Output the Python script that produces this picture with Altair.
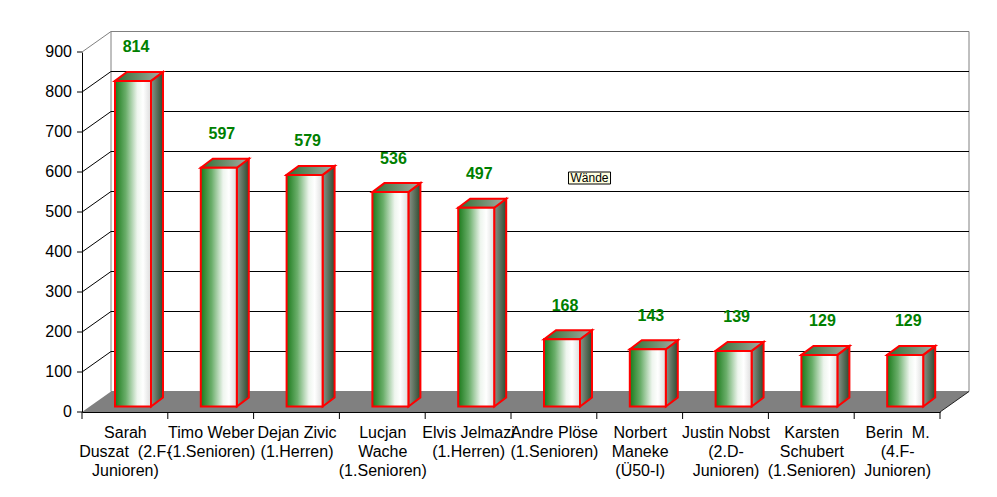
import json
import altair as alt
import pandas as pd

# ---- data ----
names = [
    "Sarah|Duszat  (2.F-|Junioren)",
    "Timo Weber|(1.Senioren)",
    "Dejan Zivic|(1.Herren)",
    "Lucjan|Wache|(1.Senioren)",
    "Elvis Jelmazi|(1.Herren)",
    "Andre Plöse|(1.Senioren)",
    "Norbert|Maneke|(Ü50-I)",
    "Justin Nobst|(2.D-|Junioren)",
    "Karsten|Schubert|(1.Senioren)",
    "Berin  M.|(4.F-|Junioren)",
]
values = [814, 597, 579, 536, 497, 168, 143, 139, 129, 129]
y_ticks = [0, 100, 200, 300, 400, 500, 600, 700, 800, 900]
note_text = "Wände"

# ---- geometry / style ----
W, H = 858, 360
N = len(values)
YMAX = 900
PX = W / N          # px per category
PY = H / YMAX       # px per value unit
DXW = 29 / PX       # 3D wall depth (x)
DYW = 20.5 / PY     # 3D wall depth (y)
FL, FR = 33 / PX, 69 / PX   # bar front face within category
SDX, SDY = 12 / PX, 9 / PY  # bar depth
BASE = 5.5 / PY
FONT = "Liberation Sans"

xs = alt.Scale(domain=[0, N], nice=False, zero=False)
ys = alt.Scale(domain=[0, YMAX], nice=False, zero=False)


def X(f):
    return alt.X(f, scale=xs, title=None)


def Y(f, **kw):
    return alt.Y(f, scale=ys, title=None, **kw)


df = pd.DataFrame({"i": list(range(N)), "v": values, "name": names})
base = alt.Chart(df)

# keep double spaces visible in SVG text
label_lines = json.dumps(
    [[s.replace("  ", " \u00a0") for s in n.split("|")] for n in names],
    ensure_ascii=False,
)

# axes carrier (invisible)
axes = alt.Chart(pd.DataFrame({"t": y_ticks})).transform_calculate(xx="0").mark_rule(opacity=0).encode(
    x=alt.X(
        "xx:Q", scale=xs, title=None,
        axis=alt.Axis(
            values=[k + 0.5 for k in range(N)], ticks=False, grid=False,
            labelExpr=f"{label_lines}[round(datum.value - 0.5)]",
            labelFont=FONT, labelFontSize=16, labelColor="black",
            labelLineHeight=19, labelPadding=12, labelAngle=0,
            labelOverlap=False, labelFlush=False,
            domainColor="black", domainWidth=1, zindex=1,
        ),
    ),
    y=alt.Y(
        "t:Q", scale=ys, title=None,
        axis=alt.Axis(
            values=y_ticks, grid=False, ticks=False, labels=False,
            domainColor="black", domainWidth=1, zindex=1,
        ),
    ),
)

tick_df = pd.DataFrame({"t": y_ticks})
# y tick marks and labels
ytick_marks = alt.Chart(tick_df).mark_rule(color="black", strokeWidth=1).encode(
    x=alt.value(-5), x2=alt.value(0), y=Y("t:Q"),
)
ytick_labels = alt.Chart(tick_df).mark_text(
    font=FONT, fontSize=16, color="black", align="right", baseline="middle",
).encode(
    x=alt.value(-10), y=Y("t:Q"), text="t:Q",
)

# back wall
wall = alt.Chart(pd.DataFrame({"a": [0]})).transform_calculate(
    x0=f"{DXW}", x1=f"{N + DXW}", y0=f"{DYW}", y1=f"{YMAX + DYW}"
).mark_rect(fill="white", stroke="#808080", strokeWidth=1).encode(
    x=X("x0:Q"), x2="x1:Q", y=Y("y0:Q"), y2="y1:Q",
)

# floor
floor = alt.Chart(pd.DataFrame({"k": [0, 1, 2, 3]})).transform_calculate(
    x=f"[0, {DXW}, {N}, {N + DXW}][datum.k]",
    yt=f"[0, {DYW}, {DYW}, {DYW}][datum.k]",
    yb=f"[0, 0, 0, {DYW}][datum.k]",
).mark_area(orient="vertical", fill="#808080").encode(
    x=X("x:Q"), y=Y("yt:Q", stack=None), y2="yb:Q",
)

inner = alt.Chart(tick_df).transform_filter("datum.t > 0 && datum.t < 900")
# back wall gridlines
grid_back = inner.transform_calculate(
    x0=f"{DXW}", x1=f"{N + DXW}", yy=f"datum.t + {DYW}"
).mark_rule(color="black", strokeWidth=1).encode(
    x=X("x0:Q"), x2="x1:Q", y=Y("yy:Q"),
)
# left wall diagonals
grid_left = inner.transform_calculate(
    x0="0", x1=f"{DXW}", y0="datum.t", y1=f"datum.t + {DYW}"
).mark_rule(color="black", strokeWidth=1).encode(
    x=X("x0:Q"), x2="x1:Q", y=Y("y0:Q"), y2="y1:Q",
)
top_diag = alt.Chart(tick_df).transform_filter("datum.t == 900").transform_calculate(
    x0="0", x1=f"{DXW}", y0="datum.t", y1=f"datum.t + {DYW}"
).mark_rule(color="#808080", strokeWidth=1).encode(
    x=X("x0:Q"), x2="x1:Q", y=Y("y0:Q"), y2="y1:Q",
)
right_diag = alt.Chart(pd.DataFrame({"a": [0]})).transform_calculate(
    x0=f"{N}", x1=f"{N + DXW}", y0="0", y1=f"{DYW}"
).mark_rule(color="#222222", strokeWidth=1).encode(
    x=X("x0:Q"), x2="x1:Q", y=Y("y0:Q"), y2="y1:Q",
)

# category boundary ticks
xticks = alt.Chart(pd.DataFrame({"b": list(range(N + 1))})).mark_rule(
    color="black", strokeWidth=1
).encode(
    x=X("b:Q"), y=alt.value(H), y2=alt.value(H + 7),
)

front_grad = alt.LinearGradient(
    gradient="linear", x1=0, x2=1, y1=0, y2=0,
    stops=[
        alt.GradientStop(color="#1b7a1b", offset=0),
        alt.GradientStop(color="#6aae6a", offset=0.3),
        alt.GradientStop(color="#eef5ee", offset=0.62),
        alt.GradientStop(color="#ffffff", offset=0.78),
        alt.GradientStop(color="#dcdcdc", offset=1),
    ],
)
side_grad = alt.LinearGradient(
    gradient="linear", x1=0, x2=1, y1=0, y2=0,
    stops=[
        alt.GradientStop(color="#8a948a", offset=0),
        alt.GradientStop(color="#2f4a2f", offset=1),
    ],
)
top_grad = alt.LinearGradient(
    gradient="linear", x1=0, x2=1, y1=0, y2=0,
    stops=[
        alt.GradientStop(color="#2f6f2f", offset=0),
        alt.GradientStop(color="#a8aca8", offset=1),
    ],
)

side = base.transform_calculate(k="[0, 1]").transform_flatten(["k"]).transform_calculate(
    x=f"datum.i + {FR} + datum.k * {SDX}",
    yt=f"datum.v + {BASE} + datum.k * {SDY}",
    yb=f"{BASE} + datum.k * {SDY}",
).mark_area(orient="vertical", fill=side_grad, stroke="#ff0000", strokeWidth=2).encode(
    x=X("x:Q"), y=Y("yt:Q", stack=None), y2="yb:Q", detail="i:N",
)

top = base.transform_calculate(k="[0, 1, 2, 3]").transform_flatten(["k"]).transform_calculate(
    x=f"datum.i + {FL} + [0, {SDX}, {FR - FL}, {FR - FL + SDX}][datum.k]",
    yt=f"datum.v + {BASE} + [0, {SDY}, {SDY}, {SDY}][datum.k]",
    yb=f"datum.v + {BASE} + [0, 0, 0, {SDY}][datum.k]",
).mark_area(orient="vertical", fill=top_grad, stroke="#ff0000", strokeWidth=2).encode(
    x=X("x:Q"), y=Y("yt:Q", stack=None), y2="yb:Q", detail="i:N",
)

front = base.transform_calculate(
    xa=f"datum.i + {FL}", xb=f"datum.i + {FR}",
    ya=f"{BASE}", yb=f"datum.v + {BASE}",
).mark_rect(fill=front_grad, stroke="#ff0000", strokeWidth=2).encode(
    x=X("xa:Q"), x2="xb:Q", y=Y("ya:Q"), y2="yb:Q",
)

labels = base.transform_calculate(xl="datum.i + 0.63").mark_text(
    font=FONT, fontSize=16, fontWeight="bold", color="#008000", dy=-39,
).encode(
    x=X("xl:Q"), y=Y("v:Q"), text="v:Q",
)

# leftover tooltip box in the picture
note_df = pd.DataFrame({"x0": [5.67], "x1": [6.16], "y0": [570], "y1": [600], "xc": [5.915], "yc": [585], "t": [note_text]})
note_box = alt.Chart(note_df).mark_rect(fill="#ffffe1", stroke="black", strokeWidth=1).encode(
    x=X("x0:Q"), x2="x1:Q", y=Y("y0:Q"), y2="y1:Q",
)
note_txt = alt.Chart(note_df).mark_text(font=FONT, fontSize=12, color="black").encode(
    x=X("xc:Q"), y=Y("yc:Q"), text="t:N",
)

chart = alt.layer(
    axes, wall, grid_back, grid_left, top_diag, floor, right_diag, xticks,
    ytick_marks, ytick_labels,
    side, top, front, labels, note_box, note_txt,
).properties(
    width=W, height=H,
    autosize=alt.AutoSizeParams(type="none"),
    padding={"left": 74, "top": 44, "right": 40, "bottom": 70},
    background="white",
).configure_view(stroke=None)

chart.save("out.html", embed_options={"renderer": "svg", "actions": False})
